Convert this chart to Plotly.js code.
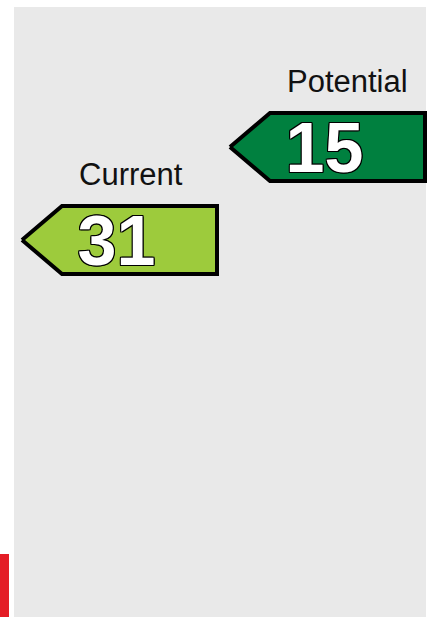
<!DOCTYPE html>
<html>
<head>
<meta charset="utf-8">
<script src="https://cdn.plot.ly/plotly-3.0.1.min.js"></script>
<style>
  html, body { margin: 0; padding: 0; background: #ffffff; }
  #chart { width: 427px; height: 617px; }
</style>
</head>
<body>
<div id="chart"></div>
<script>
// ---- data ----
const categories = ['Current', 'Potential'];
const scores = [31, 15];
const arrowColors = ['#9dcb3c', '#00803f'];

const bandNames = ['G'];
const bandFrom = [85];
const bandTo = [100];
const bandColors = ['#e41d26'];

// ---- geometry (styles) ----
const PX_X = 208;          // pixels per category column
const PX_Y = 5.8125;       // pixels per score unit
const tipLen = 40 / PX_X;
const arrowW = 195 / PX_X;
const halfH = 34 / PX_Y;
const labelGap = 65.5 / PX_Y;
const labelDx = 55 / PX_X;
const numDx = -3 / PX_X;
const numDy = 7 / PX_Y;

const traces = [];

// rating band strip (left edge)
bandNames.forEach((b, i) => {
  const x0 = -22 / PX_X, x1 = -13 / PX_X;
  traces.push({
    type: 'scatter', mode: 'lines', fill: 'toself',
    x: [x0, x1, x1, x0, x0],
    y: [bandFrom[i], bandFrom[i], bandTo[i], bandTo[i], bandFrom[i]],
    fillcolor: bandColors[i], line: { width: 0, color: bandColors[i] },
    hoverinfo: 'skip', showlegend: false
  });
});

// arrows
categories.forEach((c, i) => {
  const s = scores[i];
  traces.push({
    type: 'scatter', mode: 'lines', fill: 'toself',
    x: [i, i + tipLen, i + arrowW, i + arrowW, i + tipLen, i],
    y: [s, s - halfH, s - halfH, s + halfH, s + halfH, s],
    fillcolor: arrowColors[i],
    line: { color: '#000000', width: 4 },
    hoverinfo: 'skip', showlegend: false
  });
});

// score numbers
traces.push({
  type: 'scatter', mode: 'text',
  x: categories.map((c, i) => i + arrowW / 2 + numDx),
  y: scores.map(s => s + numDy),
  text: scores.map(String),
  textposition: 'middle center',
  textfont: {
    family: 'Liberation Sans, Arial, sans-serif', size: 70, color: '#ffffff', weight: 'bold',
    shadow: '-1px -1px 0 #000, 1px -1px 0 #000, -1px 1px 0 #000, 1px 1px 0 #000, 0 1px 0 #000, 0 -1px 0 #000, 1px 0 0 #000, -1px 0 0 #000'
  },
  hoverinfo: 'skip', showlegend: false, cliponaxis: false
});

const annotations = categories.map((c, i) => ({
  x: i + labelDx, y: scores[i] - labelGap, xref: 'x', yref: 'y',
  text: c, showarrow: false, xanchor: 'left', yanchor: 'middle',
  font: { family: 'Liberation Sans, Arial, sans-serif', size: 31, color: '#111111' }
}));

const layout = {
  width: 427, height: 617,
  margin: { l: 0, r: 0, t: 0, b: 0, pad: 0 },
  paper_bgcolor: '#ffffff', plot_bgcolor: 'rgba(0,0,0,0)',
  xaxis: { range: [-22 / PX_X, 405 / PX_X], visible: false, fixedrange: true },
  yaxis: { range: [31 + 377 / PX_Y, 31 - 240 / PX_Y], visible: false, fixedrange: true },
  shapes: [{
    type: 'rect', xref: 'paper', yref: 'paper', layer: 'below',
    x0: 14 / 427, x1: 426 / 427, y0: 0, y1: 1 - 7 / 617,
    fillcolor: '#e9e9e9', line: { width: 0 }
  }],
  annotations: annotations,
  showlegend: false
};

Plotly.newPlot('chart', traces, layout, { staticPlot: true, displayModeBar: false });
</script>
</body>
</html>
